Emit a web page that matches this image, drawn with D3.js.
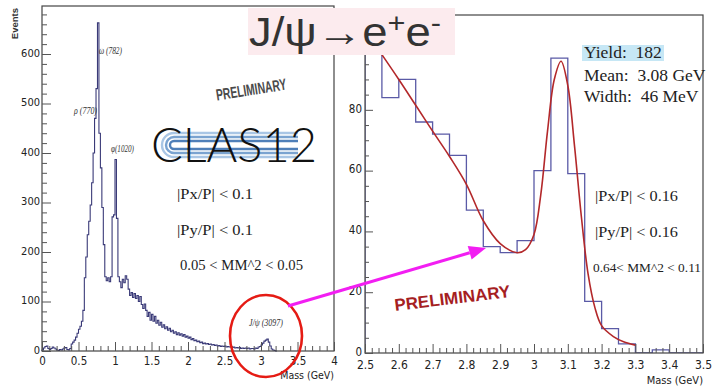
<!DOCTYPE html>
<html><head><meta charset="utf-8">
<script src="https://cdn.jsdelivr.net/npm/d3@7"></script>
<style>
body{margin:0;background:#fff}
svg{display:block}
.ax text{font-family:"Liberation Sans Narrow","DejaVu Sans Condensed",sans-serif;fill:#222}
.ax line{stroke:#555}
.ax path{display:none}
.serif{font-family:"Liberation Serif","Times New Roman",serif;fill:#222}
</style></head><body>
<svg id="c" width="712" height="390"></svg>
<script>
// ---- inclusive dilepton mass spectrum (0.02 GeV bins starting at 0) ----
const incBinLow = 0, incBinWidth = 0.02;
const incCounts = [
  2, 6, 9, 10, 5, 3, 5, 8, 6, 4, 2, 1, 3, 2, 4, 6, 7, 3, 2, 5,
  14, 18, 22, 28, 36, 44, 50, 60, 82, 148, 190, 235, 262, 295, 340, 400, 470, 530, 663, 440,
  370, 290, 215, 150, 142, 148, 140, 150, 271, 275, 387, 268, 150, 140, 128, 145, 138, 152, 145, 125,
  112, 118, 108, 116, 106, 112, 100, 110, 94, 86, 95, 82, 70, 78, 62, 74, 60, 70, 56, 62,
  52, 58, 48, 53, 45, 49, 42, 46, 39, 42, 36, 39, 33, 37, 32, 35, 30, 33, 28, 30,
  26, 28, 23, 25, 21, 22, 19, 20, 17, 18, 15, 16, 14, 15, 13, 14, 12, 13, 11, 12,
  10, 11, 9, 10, 9, 10, 8, 9, 8, 8, 7, 8, 6, 7, 6, 7, 5, 6, 5, 6,
  5, 6, 4, 5, 5, 4, 6, 5, 8, 9, 12, 16, 20, 22, 24, 18, 10, 4, 2, 1, 0
];
const incXTicks = [0, 0.5, 1, 1.5, 2, 2.5, 3, 3.5, 4];
const incYTicks = [0, 100, 200, 300, 400, 500, 600];
const resonances = ["ω (782)", "ρ (770)", "φ(1020)", "J/ψ (3097)"];
const incCuts = ["|Px/P| < 0.1", "|Py/P| < 0.1", "0.05 < MM^2 < 0.05"];

// ---- J/psi region (0.05 GeV bins starting at 2.5) ----
const jpBinLow = 2.5, jpBinWidth = 0.05;
const jpCounts = [101, 84, 90, 76, 72, 65, 47, 35, 33, 37, 60, 97, 59, 17, 8, 3, 0, 1, 0, 0];
const jpFitMass = [2.548, 2.60, 2.653, 2.70, 2.751, 2.80, 2.85, 2.90, 2.95, 2.975, 3.00, 3.02, 3.04, 3.06, 3.08, 3.10, 3.12, 3.14, 3.16, 3.18, 3.20, 3.235, 3.265, 3.30];
const jpFitValue = [98.5, 90, 81, 73, 64.5, 55.5, 43.5, 36, 33, 34, 39, 52, 73, 90, 96, 88, 68, 45, 26, 15, 9, 5.4, 3.7, 2.6];
const jpXTicks = [2.5, 2.6, 2.7, 2.8, 2.9, 3.0, 3.1, 3.2, 3.3, 3.4, 3.5];
const jpYTicks = [0, 20, 40, 60, 80];
const fitStats = ["Yield:  182", "Mean:  3.08 GeV", "Width:  46 MeV"];
const jpCuts = ["|Px/P| < 0.16", "|Py/P| < 0.16", "0.64< MM^2 < 0.11"];

const svg = d3.select("#c");
svg.append("rect").attr("width", 712).attr("height", 390).attr("fill", "#fff");

function histPoints(lo, w, counts) {
  const pts = [[lo, 0]];
  counts.forEach((c, i) => pts.push([lo + i * w, c]));
  pts.push([lo + counts.length * w, counts[counts.length - 1]]);
  pts.push([lo + counts.length * w, 0]);
  return pts;
}

function minorValues(a, b, step, majors) {
  const out = [];
  for (let v = a; v <= b + 1e-9; v += step) {
    const r = Math.round(v * 1000) / 1000;
    if (!majors.some(m => Math.abs(m - r) < 1e-6)) out.push(r);
  }
  return out;
}

function drawAxes(g, x, y, o) {
  const [y0] = y.range();
  const [x0] = x.range();
  g.append("g").attr("class", "ax").attr("transform", `translate(0,${y0})`)
    .call(d3.axisBottom(x).tickValues(o.xMinor).tickSize(-o.xMinorLen).tickFormat(""));
  g.append("g").attr("class", "ax").attr("transform", `translate(0,${y0})`)
    .call(d3.axisBottom(x).tickValues(o.xMajor).tickSize(-o.xMajorLen).tickPadding(o.xPad).tickFormat(d3.format("~g")))
    .selectAll("text").style("font-size", o.xFont + "px");
  g.append("g").attr("class", "ax").attr("transform", `translate(${x0},0)`)
    .call(d3.axisLeft(y).tickValues(o.yMinor).tickSize(-o.yMinorLen).tickFormat(""));
  g.append("g").attr("class", "ax").attr("transform", `translate(${x0},0)`)
    .call(d3.axisLeft(y).tickValues(o.yMajor).tickSize(-o.yMajorLen).tickPadding(o.yPad).tickFormat(d3.format("~g")))
    .selectAll("text").style("font-size", o.yFont + "px").attr("dy", "0.2em");
}

// ================= left panel: inclusive spectrum =================
const xL = d3.scaleLinear().domain([0, 4]).range([42, 334]);
const yL = d3.scaleLinear().domain([0, 697]).range([351, 6]);
const gL = svg.append("g");

gL.append("path")
  .attr("d", d3.line().x(d => xL(d[0])).y(d => yL(d[1])).curve(d3.curveStepAfter)(histPoints(incBinLow, incBinWidth, incCounts)))
  .attr("fill", "none").attr("stroke", "#3a3a78").attr("stroke-width", 1.1);

gL.append("rect").attr("x", xL(0)).attr("y", yL(697)).attr("width", xL(4) - xL(0)).attr("height", yL(0) - yL(697))
  .attr("fill", "none").attr("stroke", "#444").attr("stroke-width", 1.2);

drawAxes(gL, xL, yL, {
  xMajor: incXTicks, xMinor: minorValues(0, 4, 0.1, incXTicks), xMajorLen: 9, xMinorLen: 5, xPad: 6, xFont: 11.5,
  yMajor: incYTicks, yMinor: minorValues(0, 680, 20, incYTicks), yMajorLen: 9, yMinorLen: 5, yPad: 2, yFont: 11
});

gL.append("text").attr("transform", "translate(18,8) rotate(-90)").attr("text-anchor", "end")
  .style("font-family", "Liberation Sans, Arial, sans-serif").style("font-size", "9.5px").style("font-weight", "bold")
  .attr("fill", "#333").text("Events");
gL.append("text").attr("x", xL(4)).attr("y", 379).attr("text-anchor", "end")
  .style("font-family", "Liberation Sans Narrow, DejaVu Sans Condensed, sans-serif").style("font-size", "10.5px")
  .attr("fill", "#222").text("Mass (GeV)");

// resonance names
const resPos = [[99, 54], [74, 114], [111, 152], [249, 326]];
resonances.forEach((name, i) => {
  gL.append("text").attr("x", resPos[i][0]).attr("y", resPos[i][1])
    .style("font-family", "Liberation Serif, serif").style("font-style", "italic").style("font-size", "10px")
    .attr("textLength", i === 3 ? 34 : 23).attr("lengthAdjust", "spacingAndGlyphs")
    .attr("fill", "#333").text(name);
});

// selection cuts
incCuts.forEach((t, i) => {
  gL.append("text").attr("class", "serif").attr("x", i === 2 ? 180 : 177).attr("y", [199, 235, 270][i])
    .style("font-size", "15px").style("white-space", "pre")
    .attr("textLength", i === 2 ? 123 : 76).attr("lengthAdjust", "spacingAndGlyphs").text(t);
});

// watermark
gL.append("text").attr("transform", "translate(252,95) rotate(-9)").attr("text-anchor", "middle")
  .style("font-family", "Liberation Sans Narrow, sans-serif").style("font-weight", "bold").style("font-size", "16px")
  .attr("textLength", 71).attr("lengthAdjust", "spacingAndGlyphs")
  .attr("fill", "#4a4a4a").text("PRELIMINARY");

// CLAS12 logo: nested C-shaped tracks behind the lettering
const logo = gL.append("g");
const cx = 174, cy = 145;
[4, 8, 12].forEach((r, i) => {
  logo.append("path")
    .attr("d", `M298,${cy - r} H${cx} A${r},${r} 0 0 0 ${cx},${cy + r} H298`)
    .attr("fill", "none").attr("stroke", ["#4f7fb8", "#7aa3d0", "#a9c6e5"][i]).attr("stroke-width", 2.4);
});
logo.append("text").attr("x", 151).attr("y", 162)
  .style("font-family", "Lato, 'DejaVu Sans', sans-serif").style("font-weight", "300").style("font-size", "47px")
  .attr("textLength", 166).attr("lengthAdjust", "spacingAndGlyphs")
  .attr("fill", "#111").text("CLAS12");

// ================= right panel: J/psi region =================
const xR = d3.scaleLinear().domain([2.5, 3.5]).range([365, 703]);
const yR = d3.scaleLinear().domain([0, 111.2]).range([353, 15]);
const gR = svg.append("g");
svg.append("clipPath").attr("id", "rclip").append("rect")
  .attr("x", 365).attr("y", 15).attr("width", 338).attr("height", 338);

gR.append("path").attr("clip-path", "url(#rclip)")
  .attr("d", d3.line().x(d => xR(d[0])).y(d => yR(d[1])).curve(d3.curveStepAfter)(histPoints(jpBinLow, jpBinWidth, jpCounts)))
  .attr("fill", "none").attr("stroke", "#5a5aa6").attr("stroke-width", 1.3);

const fitPts = jpFitMass.map((m, i) => [m, jpFitValue[i]]);
gR.append("path").attr("clip-path", "url(#rclip)")
  .attr("d", d3.line().x(d => xR(d[0])).y(d => yR(d[1])).curve(d3.curveCatmullRom.alpha(0.5))(fitPts))
  .attr("fill", "none").attr("stroke", "#b3282a").attr("stroke-width", 1.6);

gR.append("rect").attr("x", 365).attr("y", 15).attr("width", 338).attr("height", 338)
  .attr("fill", "none").attr("stroke", "#444").attr("stroke-width", 1.2);

drawAxes(gR, xR, yR, {
  xMajor: jpXTicks, xMinor: minorValues(2.5, 3.5, 0.02, jpXTicks), xMajorLen: 9, xMinorLen: 5, xPad: 7, xFont: 12,
  yMajor: jpYTicks, yMinor: minorValues(0, 110, 5, jpYTicks), yMajorLen: 8, yMinorLen: 4, yPad: 3, yFont: 11.5
});
gR.append("text").attr("x", 703).attr("y", 384).attr("text-anchor", "end")
  .style("font-family", "Liberation Sans Narrow, DejaVu Sans Condensed, sans-serif").style("font-size", "11px")
  .attr("fill", "#222").text("Mass (GeV)");

// fit results
gR.append("rect").attr("x", 582).attr("y", 45).attr("width", 82).attr("height", 16).attr("fill", "#c6e7f5");
fitStats.forEach((t, i) => {
  gR.append("text").attr("class", "serif").attr("x", 584).attr("y", [58, 81, 102][i])
    .style("font-size", "17.5px").style("white-space", "pre").text(t);
});
jpCuts.forEach((t, i) => {
  gR.append("text").attr("class", "serif").attr("x", i === 2 ? 593 : 595).attr("y", [201, 237, 272][i])
    .style("font-size", i === 2 ? "13.5px" : "15px").style("white-space", "pre")
    .attr("textLength", i === 2 ? 108 : 83).attr("lengthAdjust", "spacingAndGlyphs").text(t);
});
gR.append("text").attr("transform", "translate(453,304) rotate(-7)").attr("text-anchor", "middle")
  .style("font-family", "Liberation Sans, Arial, sans-serif").style("font-weight", "bold").style("font-size", "17px")
  .attr("fill", "#a5201f").text("PRELIMINARY");

// ================= overlay: title, zoom arrow, circle =================
svg.append("ellipse").attr("cx", 266).attr("cy", 336).attr("rx", 36).attr("ry", 41)
  .attr("fill", "none").attr("stroke", "#e51b14").attr("stroke-width", 2.6);

const ax0 = [288, 306], ax1 = [486, 248];
const ang = Math.atan2(ax1[1] - ax0[1], ax1[0] - ax0[0]);
const headLen = 17, headW = 7;
const base = [ax1[0] - headLen * Math.cos(ang), ax1[1] - headLen * Math.sin(ang)];
svg.append("line").attr("x1", ax0[0]).attr("y1", ax0[1]).attr("x2", base[0]).attr("y2", base[1])
  .attr("stroke", "#f21ef2").attr("stroke-width", 3);
svg.append("path")
  .attr("d", `M${ax1[0]},${ax1[1]} L${base[0] + headW * Math.sin(ang)},${base[1] - headW * Math.cos(ang)} L${base[0] - headW * Math.sin(ang)},${base[1] + headW * Math.cos(ang)} Z`)
  .attr("fill", "#f21ef2");

svg.append("rect").attr("x", 248).attr("y", 8).attr("width", 207).attr("height", 47).attr("fill", "#fcebee");
const title = svg.append("text").attr("x", 249).attr("y", 46)
  .style("font-family", "Liberation Sans, Arial, sans-serif").style("font-size", "40px").attr("fill", "#333")
  .attr("textLength", 192).attr("lengthAdjust", "spacingAndGlyphs");
title.append("tspan").text("J/ψ→e");
title.append("tspan").attr("dy", -14).style("font-size", "27px").text("+");
title.append("tspan").attr("dy", 14).text("e");
title.append("tspan").attr("dy", -14).style("font-size", "27px").text("-");
</script>
</body></html>
